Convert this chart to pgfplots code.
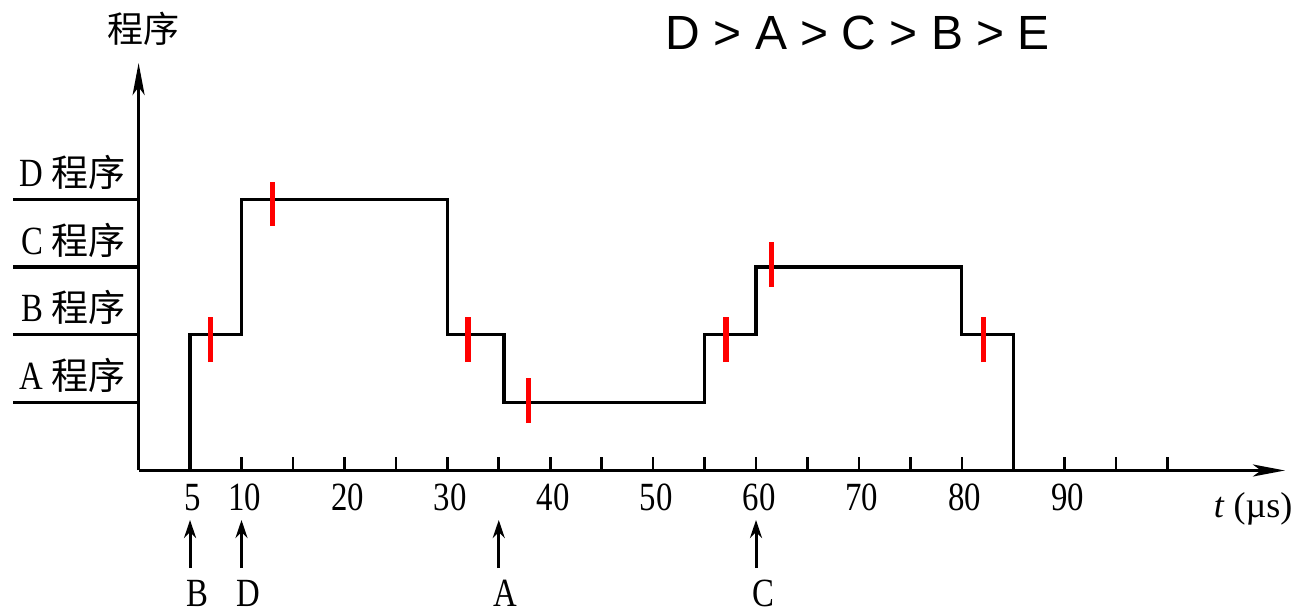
\documentclass[border=0pt]{standalone}
\usepackage{pgfplots}
\pgfplotsset{compat=1.18}
\usetikzlibrary{arrows.meta}
\usepackage{fontspec}
\setmainfont{Liberation Serif}[FakeStretch=0.82]
\newfontfamily\cjk{Noto Sans CJK SC}
\newfontfamily\sans{Liberation Sans}
\newfontfamily\plainserif{Liberation Serif}

\newcommand\lbl{\fontsize{20}{24}\selectfont}
\newcommand\prog[1]{{\lbl #1 {\cjk\fontsize{18.5}{22}\selectfont 程序}}}

\begin{document}
\begin{tikzpicture}
\begin{axis}[
    anchor=origin, at={(0,0)},
    x=5.145pt, y=33.9pt,
    xmin=0, xmax=111.4, ymin=0, ymax=6.01,
    axis lines=left,
    axis line style={line width=1.6pt, -{Stealth[length=16pt,width=6pt,inset=4pt]}},
    xtick={5,10,...,100},
    xticklabels={5,10,,20,,30,,40,,50,,60,,70,,80,,90,,},
    ytick=\empty,
    tick align=inside,
    major tick length=6.5pt,
    tick style={line width=1.3pt, black},
    xticklabel style={anchor=base, yshift=-20.25pt, xshift=1.5pt, font=\lbl,
        /pgf/number format/assume math mode=true},
    clip=false,
    unbounded coords=jump,
]
    % level lines left of the axis
    \addplot[black, line width=1.6pt] coordinates {
        (-12.2,1) (0,1) (0,nan)
        (-12.2,2) (0,2) (0,nan)
        (-12.2,3) (0,3) (0,nan)
        (-12.2,4) (0,4)};

    % running program level
    \addplot[black, line width=1.6pt, line join=miter] coordinates {
        (5,0) (5,2) (10,2) (10,4) (30,4) (30,2) (35.5,2) (35.5,1)
        (55,1) (55,2) (60,2) (60,3) (80,3) (80,2) (85,2) (85,0)};

    % red marks
    \addplot[red, line width=2.8pt] coordinates {
        (7,1.60) (7,2.26) (7,nan)
        (13,3.61) (13,4.26) (13,nan)
        (32,1.60) (32,2.26) (32,nan)
        (37.9,0.70) (37.9,1.36) (37.9,nan)
        (57.1,1.60) (57.1,2.26) (57.1,nan)
        (61.5,2.71) (61.5,3.37) (61.5,nan)
        (82.1,1.60) (82.1,2.26)};

    % interrupt request arrows
    \addplot[black, line width=1.5pt, -{Stealth[length=9pt,width=6pt]}] coordinates {(5,-1.44) (5,-0.73)};
    \addplot[black, line width=1.5pt, -{Stealth[length=9pt,width=6pt]}] coordinates {(10,-1.44) (10,-0.73)};
    \addplot[black, line width=1.5pt, -{Stealth[length=9pt,width=6pt]}] coordinates {(35,-1.44) (35,-0.73)};
    \addplot[black, line width=1.5pt, -{Stealth[length=9pt,width=6pt]}] coordinates {(60,-1.44) (60,-0.73)};

    \node[xshift=3.5pt] at (axis cs:5,-1.81) {\lbl B};
    \node[xshift=3.5pt] at (axis cs:10,-1.81) {\lbl D};
    \node[xshift=3.5pt] at (axis cs:35,-1.81) {\lbl A};
    \node[xshift=3.5pt] at (axis cs:60,-1.81) {\lbl C};

    \node[anchor=east, inner sep=0pt] at (axis cs:-1.26,1.4) {\prog{A}};
    \node[anchor=east, inner sep=0pt] at (axis cs:-1.26,2.4) {\prog{B}};
    \node[anchor=east, inner sep=0pt] at (axis cs:-1.26,3.4) {\prog{C}};
    \node[anchor=east, inner sep=0pt] at (axis cs:-1.26,4.4) {\prog{D}};

    \node at (axis cs:0.43,6.51) {\cjk\fontsize{18}{22}\selectfont 程序};
    \node at (axis cs:69.9,6.46) {\sans\fontsize{24}{28}\selectfont D > A > C > B > E};
    \node at (axis cs:108.3,-0.57) {\plainserif\fontsize{18}{22}\selectfont\textit{t} (µs)};
\end{axis}
\pgfresetboundingbox
\path[use as bounding box] (-69.3pt,-71.25pt) rectangle (580.2pt,235.25pt);
\end{tikzpicture}
\end{document}
